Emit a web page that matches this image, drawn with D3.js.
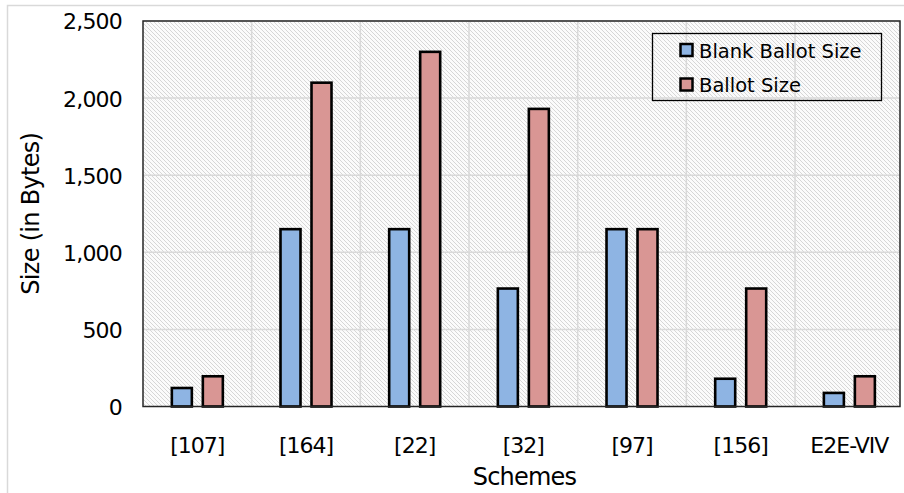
<!DOCTYPE html>
<html><head><meta charset="utf-8">
<script src="https://cdn.jsdelivr.net/npm/d3@7/dist/d3.min.js"></script>
<style>
html,body{margin:0;padding:0;background:#fff;}
svg{display:block;}
text{font-family:"DejaVu Sans",sans-serif;fill:#000;}
</style></head>
<body>
<svg id="chart" width="904" height="493"></svg>
<script>
const categories = ["[107]", "[164]", "[22]", "[32]", "[97]", "[156]", "E2E-VIV"];
const seriesNames = ["Blank Ballot Size", "Ballot Size"];
const blankBallotSize = [120, 1150, 1150, 765, 1150, 180, 88];
const ballotSize = [196, 2100, 2300, 1930, 1150, 765, 196];
const yTicks = [0, 500, 1000, 1500, 2000, 2500];
const colors = ["#8eb4e3", "#d99694"];

const svg = d3.select("#chart");
const L = 143, R = 900, T = 21, B = 406.5;
const bandEnd = 903.7;

const x = d3.scaleBand().domain(categories).range([L, bandEnd]);
const x1 = d3.scaleBand().domain(seriesNames).range([x.bandwidth()/2 - 31, x.bandwidth()/2 + 31]);
const y = d3.scaleLinear().domain([0, 2500]).range([B, T]);

const defs = svg.append("defs");
const pat = defs.append("pattern").attr("id","hatch").attr("patternUnits","userSpaceOnUse")
  .attr("width",4).attr("height",4);
pat.append("rect").attr("width",4).attr("height",4).attr("fill","#fbfbfb");
pat.append("path").attr("d","M-1,-1 L5,5 M-1,3 L1,5 M3,-1 L5,1")
  .attr("stroke","#d6d6d6").attr("stroke-width",1);
defs.append("clipPath").attr("id","clip").append("rect")
  .attr("x",L).attr("y",T-2).attr("width",R-L).attr("height",B-T+4);

// outer frame
svg.append("path").attr("d","M7.5,493 L7.5,5.5 L904,5.5")
  .attr("fill","none").attr("stroke","#d9d9d9").attr("stroke-width",1.5);

// plot background
svg.append("rect").attr("x",L).attr("y",T).attr("width",R-L).attr("height",B-T).attr("fill","url(#hatch)");

const g = svg.append("g").attr("clip-path","url(#clip)");
g.selectAll(".hg").data(yTicks.slice(1)).enter().append("line")
  .attr("x1",L).attr("x2",R).attr("y1",d=>y(d)).attr("y2",d=>y(d))
  .attr("stroke","#d9d9d9").attr("stroke-width",1.5);
g.selectAll(".vg").data(categories.slice(1)).enter().append("line")
  .attr("x1",d=>x(d)).attr("x2",d=>x(d)).attr("y1",T).attr("y2",B)
  .attr("stroke","#d9d9d9").attr("stroke-width",1.5);

// bars
const data = categories.map((c,i)=>({c, vals:[blankBallotSize[i], ballotSize[i]]}));
const groups = g.selectAll(".grp").data(data).enter().append("g")
  .attr("transform",d=>`translate(${x(d.c)},0)`);
const bw = 20;
groups.selectAll("rect").data(d=>d.vals.map((v,j)=>({v,j}))).enter().append("rect")
  .attr("x",d=>x1(seriesNames[d.j]) + x1.bandwidth()/2 - bw/2)
  .attr("width",bw)
  .attr("y",d=>y(d.v))
  .attr("height",d=>B - y(d.v))
  .attr("fill",d=>colors[d.j])
  .attr("stroke","#000").attr("stroke-width",2.6);

// plot frame
svg.append("rect").attr("x",L).attr("y",T).attr("width",R-L).attr("height",B-T)
  .attr("fill","none").attr("stroke","#262626").attr("stroke-width",1.5);

// y axis
const yAxis = d3.axisLeft(y).tickValues(yTicks).tickSize(0).tickPadding(0).tickFormat(d3.format(","));
const ya = svg.append("g").attr("transform",`translate(${122},0)`).call(yAxis);
ya.select(".domain").remove();
ya.selectAll("text").style("font-family","'DejaVu Sans',sans-serif").style("font-size","22px")
  .style("letter-spacing","-0.8px").attr("fill","#000").attr("dy","0.36em");

// x axis
const xAxis = d3.axisBottom(x).tickSize(0).tickPadding(0);
const xa = svg.append("g").attr("transform",`translate(0,${B})`).call(xAxis);
xa.select(".domain").remove();
xa.selectAll("text").style("font-family","'DejaVu Sans',sans-serif").style("font-size","22px")
  .style("letter-spacing","-1px").attr("fill","#000").attr("dy",null).attr("y",46);

// titles
svg.append("text").attr("x",(L+R)/2 + 3).attr("y",485).attr("text-anchor","middle")
  .style("font-size","24px").style("letter-spacing","-0.8px").text("Schemes");
svg.append("text").attr("transform",`translate(39,${(T+B)/2}) rotate(-90)`).attr("text-anchor","middle")
  .style("font-size","24px").style("letter-spacing","-0.7px").text("Size (in Bytes)");

// legend
const lg = svg.append("g");
lg.append("rect").attr("x",652.5).attr("y",33.5).attr("width",229).attr("height",67)
  .attr("fill","none").attr("stroke","#000").attr("stroke-width",1.3);
seriesNames.forEach((s,i)=>{
  const cy = 50 + i*34.5;
  lg.append("rect").attr("x",680.5).attr("y",cy-6).attr("width",12).attr("height",12)
    .attr("fill",colors[i]).attr("stroke","#000").attr("stroke-width",2.5);
  lg.append("text").attr("x",699).attr("y",cy+7.5).style("font-size","19.5px")
    .style("letter-spacing","0px").text(s);
});
</script>
</body></html>
